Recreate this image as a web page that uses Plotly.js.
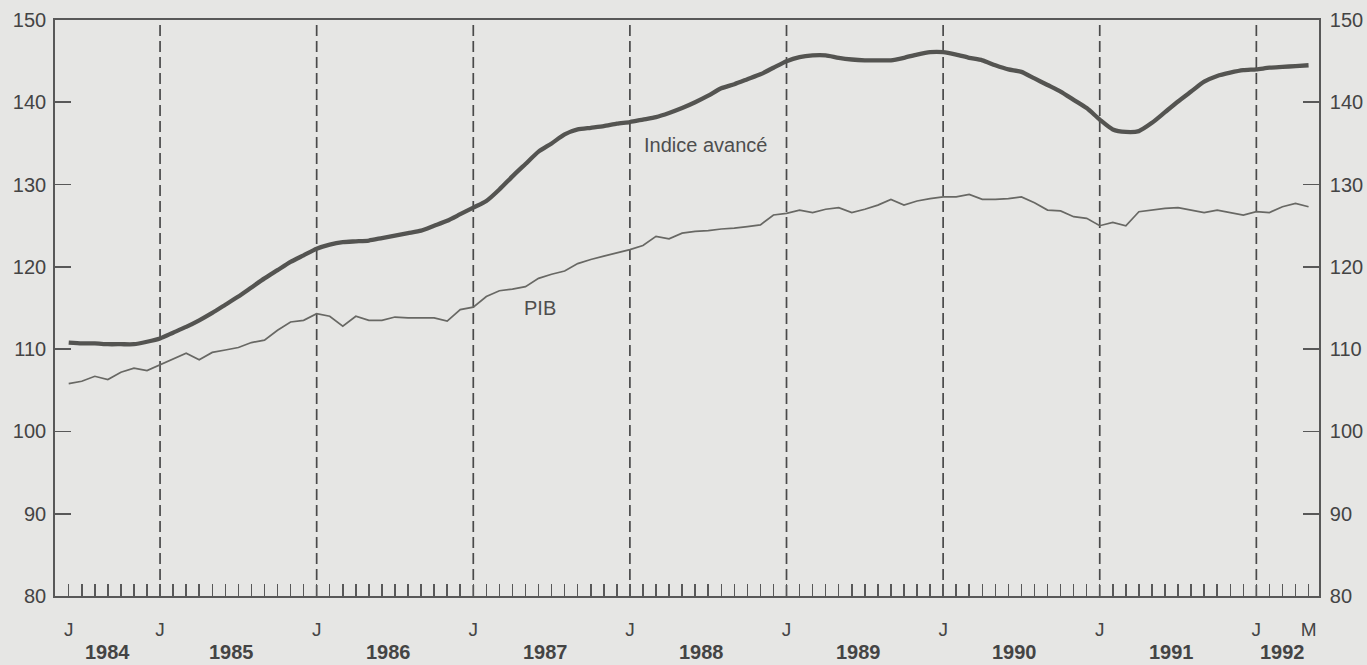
<!DOCTYPE html>
<html>
<head>
<meta charset="utf-8">
<script src="https://cdn.plot.ly/plotly-3.0.1.min.js"></script>
<style>
  html, body { margin: 0; padding: 0; background: #e6e6e4; }
  #chart { width: 1367px; height: 665px; }
</style>
</head>
<body>
<div id="chart"></div>
<script>
// Month index: 0 = January 1984. Series run from June 1984 (5) to May 1992 (100).
const firstMonth = 5;
const indiceAvance = [
  110.8, 110.7, 110.7, 110.6, 110.6, 110.6, 110.9,            // Jun-Dec 1984
  111.3, 112.0, 112.7, 113.5, 114.4, 115.4, 116.4, 117.5, 118.6, 119.6, 120.6, 121.4, // 1985
  122.2, 122.7, 123.0, 123.1, 123.2, 123.5, 123.8, 124.1, 124.4, 125.0, 125.6, 126.4, // 1986
  127.2, 128.0, 129.4, 131.0, 132.5, 134.0, 135.0, 136.1, 136.7, 136.9, 137.1, 137.4, // 1987
  137.6, 137.9, 138.2, 138.7, 139.3, 140.0, 140.8, 141.7, 142.2, 142.8, 143.4, 144.2, // 1988
  145.0, 145.5, 145.7, 145.7, 145.4, 145.2, 145.1, 145.1, 145.1, 145.4, 145.8, 146.1, // 1989
  146.1, 145.8, 145.4, 145.1, 144.5, 144.0, 143.7, 142.9, 142.1, 141.3, 140.3, 139.3, // 1990
  137.9, 136.7, 136.4, 136.5, 137.5, 138.8, 140.1, 141.3, 142.5, 143.2, 143.6, 143.9, // 1991
  144.0, 144.2, 144.3, 144.4, 144.5                              // Jan-May 1992
];
const pib = [
  105.8, 106.1, 106.7, 106.3, 107.2, 107.7, 107.4,
  108.1, 108.8, 109.5, 108.7, 109.6, 109.9, 110.2, 110.8, 111.1, 112.3, 113.3, 113.5,
  114.3, 114.0, 112.8, 114.0, 113.5, 113.5, 113.9, 113.8, 113.8, 113.8, 113.4, 114.8,
  115.1, 116.4, 117.1, 117.3, 117.6, 118.6, 119.1, 119.5, 120.4, 120.9, 121.3, 121.7,
  122.1, 122.6, 123.7, 123.4, 124.1, 124.3, 124.4, 124.6, 124.7, 124.9, 125.1, 126.3,
  126.5, 126.9, 126.6, 127.0, 127.2, 126.6, 127.0, 127.5, 128.2, 127.5, 128.0, 128.3,
  128.5, 128.5, 128.8, 128.2, 128.2, 128.3, 128.5, 127.8, 126.9, 126.8, 126.1, 125.9,
  125.0, 125.4, 125.0, 126.7, 126.9, 127.1, 127.2, 126.9, 126.6, 126.9, 126.6, 126.3,
  126.7, 126.6, 127.3, 127.7, 127.3
];
const monthTickVals = [5, 12, 24, 36, 48, 60, 72, 84, 96, 100];
const monthTickText = ['J', 'J', 'J', 'J', 'J', 'J', 'J', 'J', 'J', 'M'];
const years = ['1984', '1985', '1986', '1987', '1988', '1989', '1990', '1991', '1992'];
const januaries = [12, 24, 36, 48, 60, 72, 84, 96];
const yTicks = [80, 90, 100, 110, 120, 130, 140, 150];

const months = indiceAvance.map((_, i) => firstMonth + i);
const lastMonth = months[months.length - 1];

const ink = '#585858';
const font = 'Liberation Sans, Arial, sans-serif';

const traces = [
  { x: months, y: pib, type: 'scatter', mode: 'lines',
    line: { color: '#686864', width: 1.7 }, hoverinfo: 'skip', showlegend: false },
  { x: months, y: indiceAvance, type: 'scatter', mode: 'lines',
    line: { color: '#545451', width: 4.3, shape: 'spline', smoothing: 0.6 }, hoverinfo: 'skip', showlegend: false },
  { x: [months[0]], y: [yTicks[0]], yaxis: 'y2', type: 'scatter', mode: 'markers',
    marker: { opacity: 0 }, hoverinfo: 'skip', showlegend: false }
];

const shapes = januaries.map(m => ({
  type: 'line', xref: 'x', yref: 'paper', x0: m, x1: m, y0: 0, y1: 1,
  line: { color: '#4a4a4a', width: 1.7, dash: '11px,5px' }, layer: 'below'
}));

const annotations = years.map((yr, i) => {
  const y0 = 12 * i, y1 = 12 * i + 11;
  const a = Math.max(y0, firstMonth), b = Math.min(y1, lastMonth);
  return {
    text: '<b>' + yr + '</b>', x: (a + b) / 2, xref: 'x', y: -0.097, yref: 'paper',
    yanchor: 'middle', xanchor: 'center', showarrow: false,
    font: { family: font, size: 20, color: '#444' }
  };
});
annotations.push({
  text: 'Indice avancé', x: 53.8, y: 134.8, xref: 'x', yref: 'y', showarrow: false,
  xanchor: 'center', yanchor: 'middle', font: { family: font, size: 20, color: '#4e4e4e' }
});
annotations.push({
  text: 'PIB', x: 41.1, y: 115.0, xref: 'x', yref: 'y', showarrow: false,
  xanchor: 'center', yanchor: 'middle', font: { family: font, size: 20, color: '#4e4e4e' }
});

const layout = {
  width: 1367, height: 665,
  margin: { l: 55, r: 48, t: 20, b: 69 },
  paper_bgcolor: '#e6e6e4', plot_bgcolor: '#e6e6e4',
  showlegend: false,
  xaxis: {
    range: [3.95, 100.8], showgrid: false, zeroline: false,
    showline: true, linecolor: ink, linewidth: 1.8, mirror: true,
    tickmode: 'array', tickvals: monthTickVals, ticktext: monthTickText,
    ticks: 'inside', ticklen: 12, tickwidth: 1.5, tickcolor: ink,
    ticklabelstandoff: 15,
    tickfont: { family: font, size: 19, color: '#444' },
    minor: { tickmode: 'linear', tick0: 0, dtick: 1, ticks: 'inside', ticklen: 12, tickwidth: 1.5, tickcolor: ink, showgrid: false }
  },
  yaxis: {
    range: [80, 150], showgrid: false, zeroline: false,
    showline: true, linecolor: ink, linewidth: 1.8,
    tickmode: 'array', tickvals: yTicks,
    ticks: 'inside', ticklen: 16, tickwidth: 1.6, tickcolor: ink,
    ticklabelstandoff: 3,
    tickfont: { family: font, size: 20, color: '#444' }
  },
  yaxis2: {
    range: [80, 150], overlaying: 'y', side: 'right', showgrid: false, zeroline: false,
    showline: true, linecolor: ink, linewidth: 1.8,
    tickmode: 'array', tickvals: yTicks,
    ticks: 'inside', ticklen: 16, tickwidth: 1.6, tickcolor: ink,
    ticklabelstandoff: 5,
    tickfont: { family: font, size: 20, color: '#444' }
  },
  shapes: shapes,
  annotations: annotations
};

Plotly.newPlot('chart', traces, layout, { staticPlot: true, displayModeBar: false });
</script>
</body>
</html>
